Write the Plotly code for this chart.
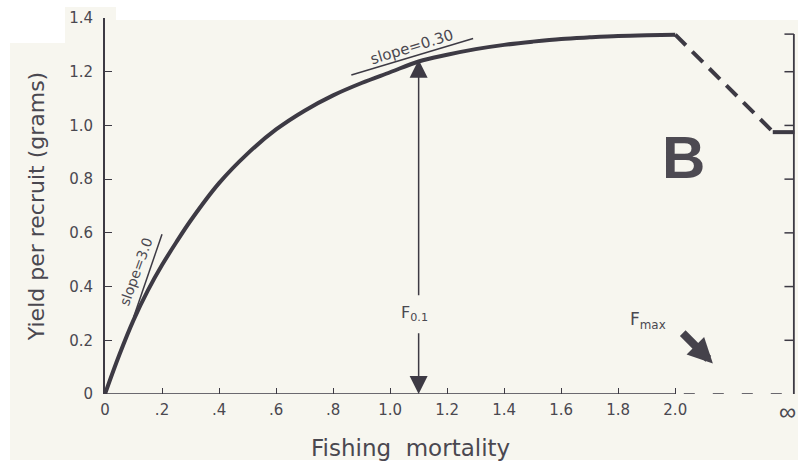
import plotly.graph_objects as go

# ---------------- data ----------------
F_VALUES = [0, 0.05, 0.1, 0.15, 0.2, 0.25, 0.3, 0.4, 0.5, 0.6, 0.7, 0.8, 0.9,
            1.0, 1.1, 1.2, 1.3, 1.4, 1.5, 1.6, 1.7, 1.8, 1.9, 2.0]
YPR_VALUES = [0, 0.145, 0.275, 0.385, 0.48, 0.565, 0.645, 0.785, 0.895, 0.985, 1.055,
              1.112, 1.158, 1.198, 1.238, 1.263, 1.284, 1.30, 1.312, 1.322, 1.328,
              1.333, 1.336, 1.338]

# beyond F = 2.0 towards infinity (dashed) and the asymptote
DASH_F = [2.0, 2.342]
DASH_Y = [1.338, 0.977]
TAIL_F = [2.342, 2.418]
TAIL_Y = [0.975, 0.975]

# tangent lines
SLOPE3_F = [0.10, 0.20]
SLOPE3_Y = [0.285, 0.595]
SLOPE030_F = [0.864, 1.291]
SLOPE030_Y = [1.188, 1.324]

F01 = 1.1
F01_YPR = 1.245
INF_POS = 2.416
X_MAX = 2.42

X_TICKVALS = [0, 0.2, 0.4, 0.6, 0.8, 1.0, 1.2, 1.4, 1.6, 1.8, 2.0, INF_POS]
X_TICKTEXT = ["0", ".2", ".4", ".6", ".8", "1.0", "1.2", "1.4", "1.6", "1.8", "2.0", ""]
INF_LABEL = "∞"
Y_TICKVALS = [0, 0.2, 0.4, 0.6, 0.8, 1.0, 1.2, 1.4]
Y_TICKTEXT = ["0", "0.2", "0.4", "0.6", "0.8", "1.0", "1.2", "1.4"]
RIGHT_TICKS = [0.2, 0.4, 0.6, 0.8, 1.0, 1.2, 1.34]

# ---------------- style ----------------
INK = "#3d3a44"
TXT = "#4a4850"
PAPER = "#f7f6ef"
FONT = "DejaVu Sans"

W, H = 799, 463
ML, MR, MT, MB = 105, 4, 18, 69
PW, PH = W - ML - MR, H - MT - MB


def px(X):
    return (X - ML) / PW


def py(Y):
    return (H - MB - Y) / PH


fig = go.Figure()

fig.add_trace(go.Scatter(x=F_VALUES, y=YPR_VALUES, mode="lines",
                         line=dict(color=INK, width=4, shape="spline"),
                         hoverinfo="skip", showlegend=False))
fig.add_trace(go.Scatter(x=DASH_F, y=DASH_Y, mode="lines",
                         line=dict(color=INK, width=4, dash="15px,9px"),
                         hoverinfo="skip", showlegend=False))
fig.add_trace(go.Scatter(x=TAIL_F, y=TAIL_Y, mode="lines",
                         line=dict(color=INK, width=4),
                         hoverinfo="skip", showlegend=False))
fig.add_trace(go.Scatter(x=SLOPE3_F, y=SLOPE3_Y, mode="lines",
                         line=dict(color=INK, width=1.5),
                         hoverinfo="skip", showlegend=False))
fig.add_trace(go.Scatter(x=SLOPE030_F, y=SLOPE030_Y, mode="lines",
                         line=dict(color=INK, width=1.5),
                         hoverinfo="skip", showlegend=False))

shapes = [
    # scanned paper background
    dict(type="rect", xref="paper", yref="paper", x0=px(10), x1=px(798),
         y0=py(460), y1=py(20), fillcolor=PAPER, line_width=0, layer="below"),
    dict(type="rect", xref="paper", yref="paper", x0=px(65), x1=px(116),
         y0=py(20), y1=py(7), fillcolor=PAPER, line_width=0, layer="below"),
    dict(type="rect", xref="paper", yref="paper", x0=px(0), x1=px(65),
         y0=py(43), y1=py(0), fillcolor="white", line_width=0, layer="below"),
    # x axis: solid to 2.0 then dashed to infinity
    dict(type="line", xref="x", yref="y", x0=0, x1=2.0, y0=0, y1=0,
         line=dict(color=INK, width=1.6)),
    dict(type="line", xref="x", yref="y", x0=2.03, x1=INF_POS, y0=0, y1=0,
         line=dict(color=INK, width=1.6, dash="11px,18px")),
    # right axis
    dict(type="line", xref="x", yref="y", x0=INF_POS, x1=INF_POS,
         y0=0, y1=1.34, line=dict(color=INK, width=1.8)),
]
for t in RIGHT_TICKS:
    shapes.append(dict(type="line", xref="x", yref="y", x0=INF_POS - 0.033,
                       x1=INF_POS, y0=t, y1=t,
                       line=dict(color=INK, width=1.5)))

annotations = [
    # F0.1 double arrow
    dict(x=F01, y=F01_YPR, ax=F01, ay=0.362, xref="x", yref="y", axref="x",
         ayref="y", showarrow=True, arrowhead=2, arrowsize=2.4, arrowwidth=1.5,
         arrowcolor=INK, text=""),
    dict(x=F01, y=0.0, ax=F01, ay=0.232, xref="x", yref="y", axref="x",
         ayref="y", showarrow=True, arrowhead=2, arrowsize=2.4, arrowwidth=1.5,
         arrowcolor=INK, text=""),
    dict(x=1.085, y=0.298, xref="x", yref="y", showarrow=False,
         text="F<sub>0.1</sub>", font=dict(family=FONT, size=16, color=TXT)),
    # Fmax arrow
    dict(x=2.132, y=0.114, ax=2.021, ay=0.232, xref="x", yref="y", axref="x",
         ayref="y", showarrow=True, arrowhead=2, arrowsize=0.62, arrowwidth=8,
         arrowcolor="#45424b", text=""),
    dict(x=1.905, y=0.275, xref="x", yref="y", showarrow=False,
         text="F<sub>max</sub>", font=dict(family=FONT, size=17, color=TXT)),
    # slope labels
    dict(x=0.107, y=0.456, xref="x", yref="y", showarrow=False,
         text="slope=3.0", textangle=-70,
         font=dict(family=FONT, size=14, color=TXT)),
    dict(x=1.077, y=1.292, xref="x", yref="y", showarrow=False,
         text="slope=0.30", textangle=-17,
         font=dict(family=FONT, size=15, color=TXT)),
    # panel letter
    dict(x=2.029, y=0.879, xref="x", yref="y", showarrow=False, text="<b>B</b>",
         font=dict(family="Liberation Sans", size=60, color="#4d4a52")),
    # infinity tick label
    dict(x=px(798), y=py(411), xref="paper", yref="paper", showarrow=False,
         text=INF_LABEL, xanchor="right", yanchor="middle",
         font=dict(family="Liberation Sans", size=24, color=TXT)),
    # x-axis title
    dict(x=px(410), y=py(448), xref="paper", yref="paper", showarrow=False,
         text="Fishing\u00a0\u00a0mortality", xanchor="center", yanchor="middle",
         font=dict(family=FONT, size=23, color=TXT)),
]

fig.update_layout(
    width=W, height=H,
    margin=dict(l=ML, r=MR, t=MT, b=MB, autoexpand=False),
    paper_bgcolor="white",
    plot_bgcolor="rgba(0,0,0,0)",
    showlegend=False,
    shapes=shapes,
    annotations=annotations,
    xaxis=dict(range=[0, X_MAX], showgrid=False, zeroline=False,
               showline=False, ticks="inside", ticklen=6, tickwidth=1.3,
               tickcolor=INK, tickvals=X_TICKVALS, ticktext=X_TICKTEXT,
               tickfont=dict(family=FONT, size=15, color=TXT),
               ticklabelstandoff=5),
    yaxis=dict(range=[0, 1.4], showgrid=False, zeroline=False,
               showline=True, linewidth=2, linecolor=INK,
               ticks="inside", ticklen=7, tickwidth=1.3, tickcolor=INK,
               tickvals=Y_TICKVALS, ticktext=Y_TICKTEXT,
               tickfont=dict(family=FONT, size=15, color=TXT),
               ticklabelstandoff=7,
               title=dict(text="Yield per recruit (grams)", standoff=18,
                          font=dict(family=FONT, size=22, color=TXT))),
)

fig.write_html("out.html", config={"displayModeBar": False},
               post_script="document.body.style.margin='0px';"
                           "document.body.style.overflow='hidden';")
